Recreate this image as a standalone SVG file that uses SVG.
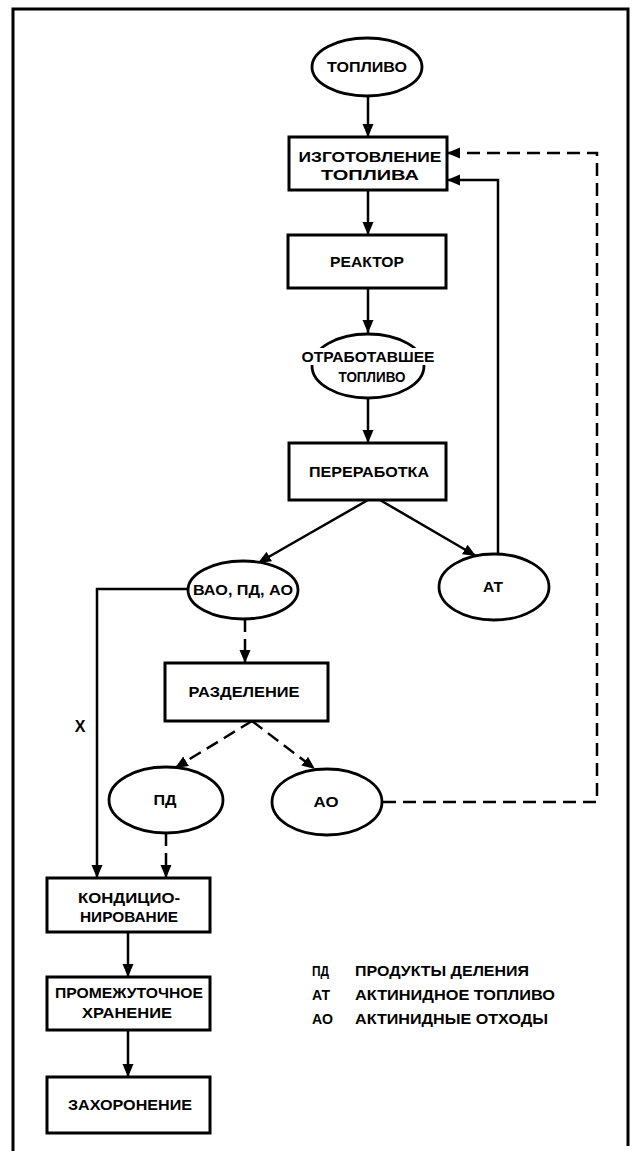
<svg xmlns="http://www.w3.org/2000/svg" width="632" height="1151" viewBox="0 0 632 1151">
<style>
.bg{fill:#fff}
.box{fill:#fff;stroke:#000;stroke-width:3}
.ell{fill:#fff;stroke:#000;stroke-width:2.8}
.t{font-family:"Liberation Sans",Arial,sans-serif;font-weight:bold;font-size:14px;fill:#000;text-anchor:middle}
.tl{font-family:"Liberation Sans",Arial,sans-serif;font-weight:bold;font-size:14px;fill:#000}
.c{fill:none;stroke:#000;stroke-width:2.5}
.d{fill:none;stroke:#000;stroke-width:2.5;stroke-dasharray:13 7}
.frame{fill:none;stroke:#000;stroke-width:3}
</style>
<defs>
<marker id="ah" markerUnits="userSpaceOnUse" markerWidth="14" markerHeight="14" viewBox="0 0 14 14" refX="13" refY="7" orient="auto">
<path d="M0,1.5 L13,7 L0,12.5 Z" fill="#000"/>
</marker>
</defs>
<rect class="bg" x="0" y="0" width="632" height="1151"/>
<path class="frame" d="M13,1151 L13,9 L628,9 L628,1146"/>

<g id="connectors">
<line class="c" x1="368" y1="97" x2="368" y2="137" marker-end="url(#ah)"/>
<line class="c" x1="368" y1="190" x2="368" y2="235" marker-end="url(#ah)"/>
<line class="c" x1="368" y1="288" x2="368" y2="333" marker-end="url(#ah)"/>
<line class="c" x1="368" y1="398" x2="368" y2="443" marker-end="url(#ah)"/>
<line class="c" x1="368" y1="500" x2="258" y2="563" marker-end="url(#ah)"/>
<line class="c" x1="380" y1="500" x2="476" y2="556" marker-end="url(#ah)"/>
<polyline class="c" points="498,554 498,180 447,180" marker-end="url(#ah)"/>
<polyline class="d" points="383,802 597,802 597,153 447,153" marker-end="url(#ah)"/>
<polyline class="c" points="188,589 97,589 97,878" marker-end="url(#ah)"/>
<line class="d" x1="245" y1="619" x2="245" y2="663" marker-end="url(#ah)"/>
<line class="d" x1="252" y1="721" x2="175" y2="768" marker-end="url(#ah)"/>
<line class="d" x1="252" y1="721" x2="315" y2="769" marker-end="url(#ah)"/>
<line class="d" x1="166" y1="833" x2="166" y2="878" marker-end="url(#ah)"/>
<line class="c" x1="128" y1="932" x2="128" y2="977" marker-end="url(#ah)"/>
<line class="c" x1="128" y1="1030" x2="128" y2="1077" marker-end="url(#ah)"/>
</g>

<g id="n-toplivo">
<ellipse class="ell" cx="367" cy="67" rx="55" ry="29"/>
<text class="t" x="367" y="72" textLength="80" lengthAdjust="spacingAndGlyphs">ТОПЛИВО</text>
</g>
<g id="n-izgotovlenie">
<rect class="box" x="289" y="137" width="158" height="53"/>
<text class="t" x="370" y="162" textLength="143" lengthAdjust="spacingAndGlyphs">ИЗГОТОВЛЕНИЕ</text>
<text class="t" x="370" y="180" textLength="98" lengthAdjust="spacingAndGlyphs">ТОПЛИВА</text>
</g>
<g id="n-reaktor">
<rect class="box" x="288" y="235" width="158" height="53"/>
<text class="t" x="367" y="267" textLength="74" lengthAdjust="spacingAndGlyphs">РЕАКТОР</text>
</g>
<g id="n-otrabotavshee">
<ellipse class="ell" cx="368" cy="366" rx="56" ry="32"/>
<rect x="300" y="348" width="137" height="17" fill="#fff"/>
<text class="t" x="368" y="362" textLength="133" lengthAdjust="spacingAndGlyphs">ОТРАБОТАВШЕЕ</text>
<text class="t" x="372" y="382" textLength="67" lengthAdjust="spacingAndGlyphs">ТОПЛИВО</text>
</g>
<g id="n-pererabotka">
<rect class="box" x="289" y="443" width="157" height="57"/>
<text class="t" x="369" y="477" textLength="120" lengthAdjust="spacingAndGlyphs">ПЕРЕРАБОТКА</text>
</g>
<g id="n-vao">
<ellipse class="ell" cx="243" cy="590" rx="55" ry="29"/>
<text class="t" x="243" y="595" textLength="100" lengthAdjust="spacingAndGlyphs">ВАО, ПД, АО</text>
</g>
<g id="n-at">
<ellipse class="ell" cx="494" cy="587" rx="55" ry="33"/>
<text class="t" x="493" y="592" textLength="20" lengthAdjust="spacingAndGlyphs">АТ</text>
</g>
<g id="n-razdelenie">
<rect class="box" x="165" y="663" width="163" height="58"/>
<text class="t" x="244" y="697" textLength="111" lengthAdjust="spacingAndGlyphs">РАЗДЕЛЕНИЕ</text>
</g>
<text class="t" x="80" y="732" style="font-size:16px">X</text>
<g id="n-pd">
<ellipse class="ell" cx="166" cy="800" rx="57" ry="33"/>
<text class="t" x="165" y="805" textLength="23" lengthAdjust="spacingAndGlyphs">ПД</text>
</g>
<g id="n-ao">
<ellipse class="ell" cx="327" cy="802" rx="55" ry="33"/>
<text class="t" x="326" y="807" textLength="25" lengthAdjust="spacingAndGlyphs">АО</text>
</g>
<g id="n-kondicionirovanie">
<rect class="box" x="47" y="878" width="163" height="54"/>
<text class="t" x="129" y="903" textLength="102" lengthAdjust="spacingAndGlyphs">КОНДИЦИО-</text>
<text class="t" x="129" y="922" textLength="98" lengthAdjust="spacingAndGlyphs">НИРОВАНИЕ</text>
</g>
<g id="n-promezhutochnoe">
<rect class="box" x="47" y="977" width="163" height="53"/>
<text class="t" x="129" y="998" textLength="148" lengthAdjust="spacingAndGlyphs">ПРОМЕЖУТОЧНОЕ</text>
<text class="t" x="127" y="1018" textLength="90" lengthAdjust="spacingAndGlyphs">ХРАНЕНИЕ</text>
</g>
<g id="n-zahoronenie">
<rect class="box" x="47" y="1077" width="163" height="56"/>
<text class="t" x="130" y="1110" textLength="124" lengthAdjust="spacingAndGlyphs">ЗАХОРОНЕНИЕ</text>
</g>
<g id="legend">
<text class="tl" x="312" y="976" textLength="17" lengthAdjust="spacingAndGlyphs">ПД</text>
<text class="tl" x="355" y="976" textLength="174" lengthAdjust="spacingAndGlyphs">ПРОДУКТЫ ДЕЛЕНИЯ</text>
<text class="tl" x="312" y="1000" textLength="18" lengthAdjust="spacingAndGlyphs">АТ</text>
<text class="tl" x="355" y="1000" textLength="200" lengthAdjust="spacingAndGlyphs">АКТИНИДНОЕ ТОПЛИВО</text>
<text class="tl" x="312" y="1024" textLength="21" lengthAdjust="spacingAndGlyphs">АО</text>
<text class="tl" x="355" y="1024" textLength="193" lengthAdjust="spacingAndGlyphs">АКТИНИДНЫЕ ОТХОДЫ</text>
</g>
</svg>
